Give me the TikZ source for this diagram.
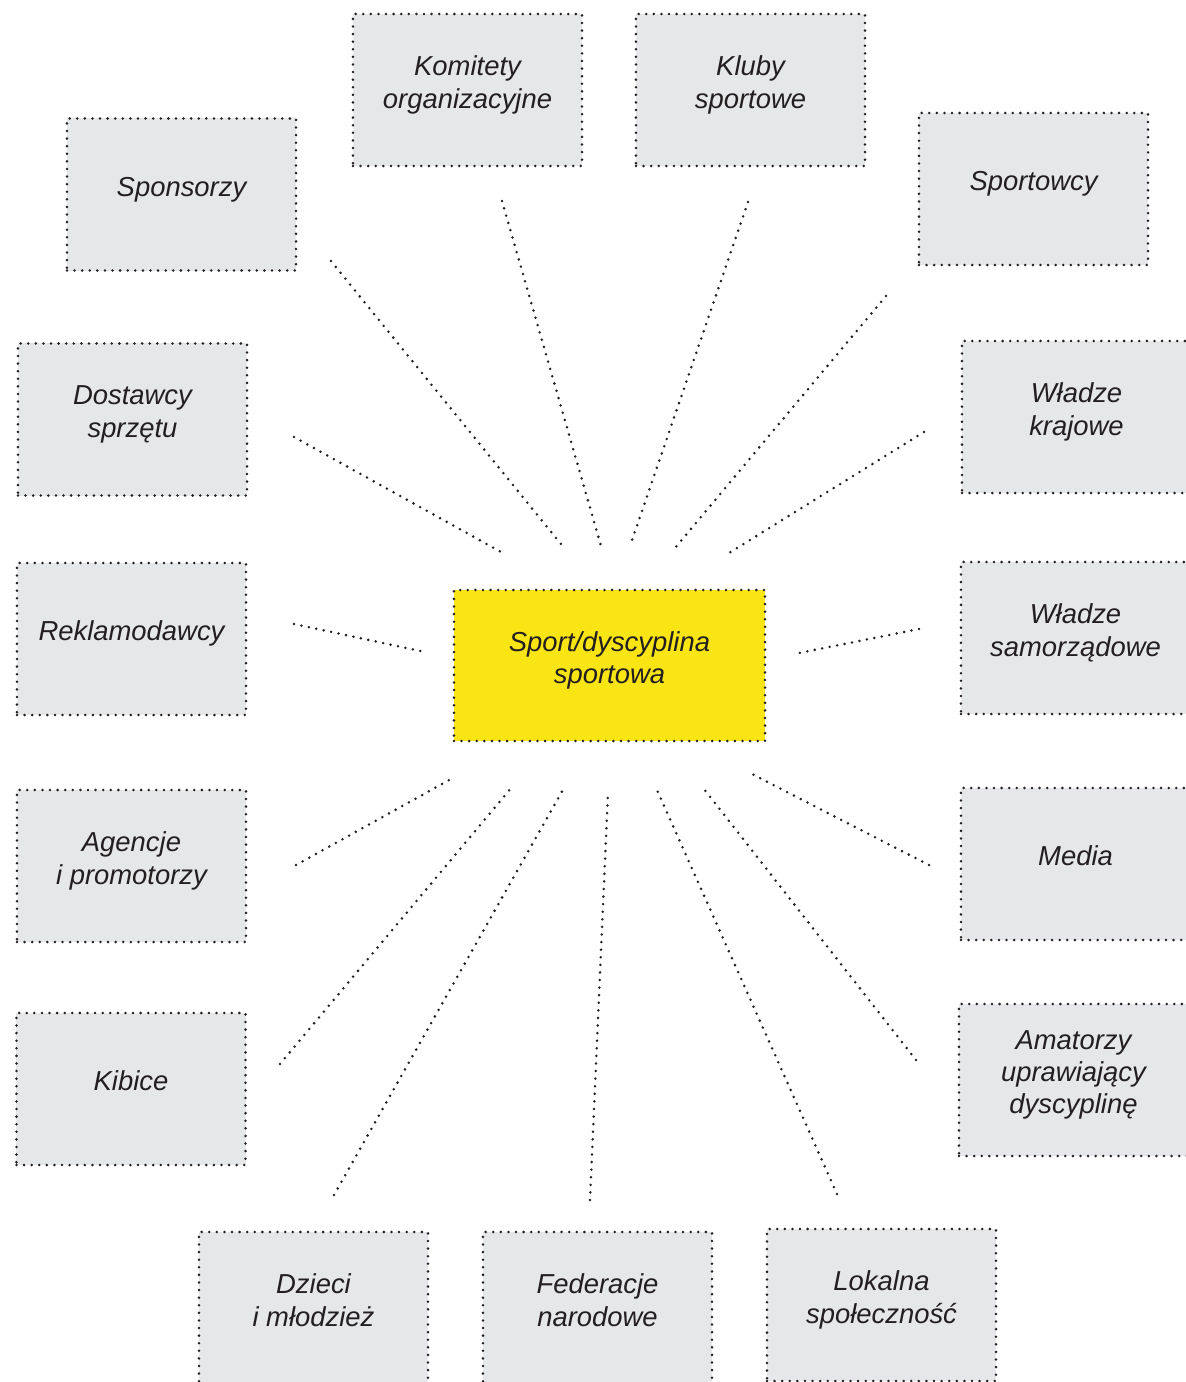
\documentclass[tikz,border=0pt]{standalone}
\usepackage{fontspec}
\setmainfont{Liberation Sans}
\usepackage{xcolor}
\usetikzlibrary{positioning, calc}
\definecolor{cStake}{HTML}{E6E7E9}
\definecolor{cHub}{HTML}{F9E414}
\definecolor{cInk}{HTML}{231F20}
\tikzset{
  dotline/.style ={dash pattern=on 0pt off 5.4pt, line cap=round,
                   line width=2pt, draw=cInk},
  stake/.style   ={dotline, fill=cStake, align=center,
                   font=\fontsize{19.5}{23}\selectfont\itshape,
                   text=cInk, text depth=0.4cm, inner sep=0pt,
                   minimum width=5.725cm, minimum height=3.8cm},
  hub/.style     ={stake, fill=cHub,
                   minimum width=7.775cm, minimum height=3.775cm},
  tie/.style     ={dotline},
}

\begin{document}
\begin{tikzpicture}[x=0.025cm, y=-0.025cm]
  \useasboundingbox (0,0) rectangle (1185,1382);

  % ============================================================
  % CENTRE
  % ============================================================
  \node[hub] (sport) at (609.5,665.5) {Sport/dyscyplina\\sportowa};

  % ============================================================
  % STAKEHOLDERS (clockwise from top)
  % ============================================================
  \node[stake] (komitety)  at (467.5,90)    {Komitety\\organizacyjne};
  \node[stake] (kluby)     at (750.5,90)    {Kluby\\sportowe};
  \node[stake] (sportowcy) at (1033.5,189)  {Sportowcy};
  \node[stake] (krajowe)   at (1076.5,417)  {Władze\\krajowe};
  \node[stake] (samorzad)  at (1075.5,638)  {Władze\\samorządowe};
  \node[stake] (media)     at (1075.5,864)  {Media};
  \node[stake] (amatorzy)  at (1073.5,1080) {Amatorzy\\uprawiający\\dyscyplinę};
  \node[stake] (lokalna)   at (881.5,1305)  {Lokalna\\społeczność};
  \node[stake] (federacje) at (597.5,1308)  {Federacje\\narodowe};
  \node[stake] (dzieci)    at (313.5,1308)  {Dzieci\\i młodzież};
  \node[stake] (kibice)    at (131,1089)    {Kibice};
  \node[stake] (agencje)   at (131.5,866)   {Agencje\\i promotorzy};
  \node[stake] (reklamo)   at (131.5,639)   {Reklamodawcy};
  \node[stake] (dostawcy)  at (132.5,419.5) {Dostawcy\\sprzętu};
  \node[stake] (sponsorzy) at (181.5,194.5) {Sponsorzy};

  % ============================================================
  % RAYS: free ends between the hub and each box
  % ============================================================
  \coordinate (komitety-a)  at (502,201);   \coordinate (komitety-b)  at (601,546);
  \coordinate (kluby-a)     at (748,202);   \coordinate (kluby-b)     at (630,546);
  \coordinate (sportowcy-a) at (886,296);   \coordinate (sportowcy-b) at (675,548);
  \coordinate (krajowe-a)   at (924,432);   \coordinate (krajowe-b)   at (729,553);
  \coordinate (samorzad-a)  at (919,629);   \coordinate (samorzad-b)  at (799,653);
  \coordinate (media-a)     at (929,865);   \coordinate (media-b)     at (752,774);
  \coordinate (amatorzy-a)  at (916,1060);  \coordinate (amatorzy-b)  at (704,789);
  \coordinate (lokalna-a)   at (837,1194);  \coordinate (lokalna-b)   at (657,790);
  \coordinate (federacje-a) at (590,1200);  \coordinate (federacje-b) at (608,793);
  \coordinate (dzieci-a)    at (334,1195);  \coordinate (dzieci-b)    at (564,788);
  \coordinate (kibice-a)    at (280,1064);  \coordinate (kibice-b)    at (512,787);
  \coordinate (agencje-a)   at (296,865);   \coordinate (agencje-b)   at (451,779);
  \coordinate (reklamo-a)   at (294,624);   \coordinate (reklamo-b)   at (425,652);
  \coordinate (dostawcy-a)  at (294,437);   \coordinate (dostawcy-b)  at (501,552);
  \coordinate (sponsorzy-a) at (331,261);   \coordinate (sponsorzy-b) at (565,549);

  \draw[tie] (komitety-a)  -- (komitety-b);
  \draw[tie] (kluby-a)     -- (kluby-b);
  \draw[tie] (sportowcy-a) -- (sportowcy-b);
  \draw[tie] (krajowe-a)   -- (krajowe-b);
  \draw[tie] (samorzad-a)  -- (samorzad-b);
  \draw[tie] (media-a)     -- (media-b);
  \draw[tie] (amatorzy-a)  -- (amatorzy-b);
  \draw[tie] (lokalna-a)   -- (lokalna-b);
  \draw[tie] (federacje-a) -- (federacje-b);
  \draw[tie] (dzieci-a)    -- (dzieci-b);
  \draw[tie] (kibice-a)    -- (kibice-b);
  \draw[tie] (agencje-a)   -- (agencje-b);
  \draw[tie] (reklamo-a)   -- (reklamo-b);
  \draw[tie] (dostawcy-a)  -- (dostawcy-b);
  \draw[tie] (sponsorzy-a) -- (sponsorzy-b);

\end{tikzpicture}
\end{document}
